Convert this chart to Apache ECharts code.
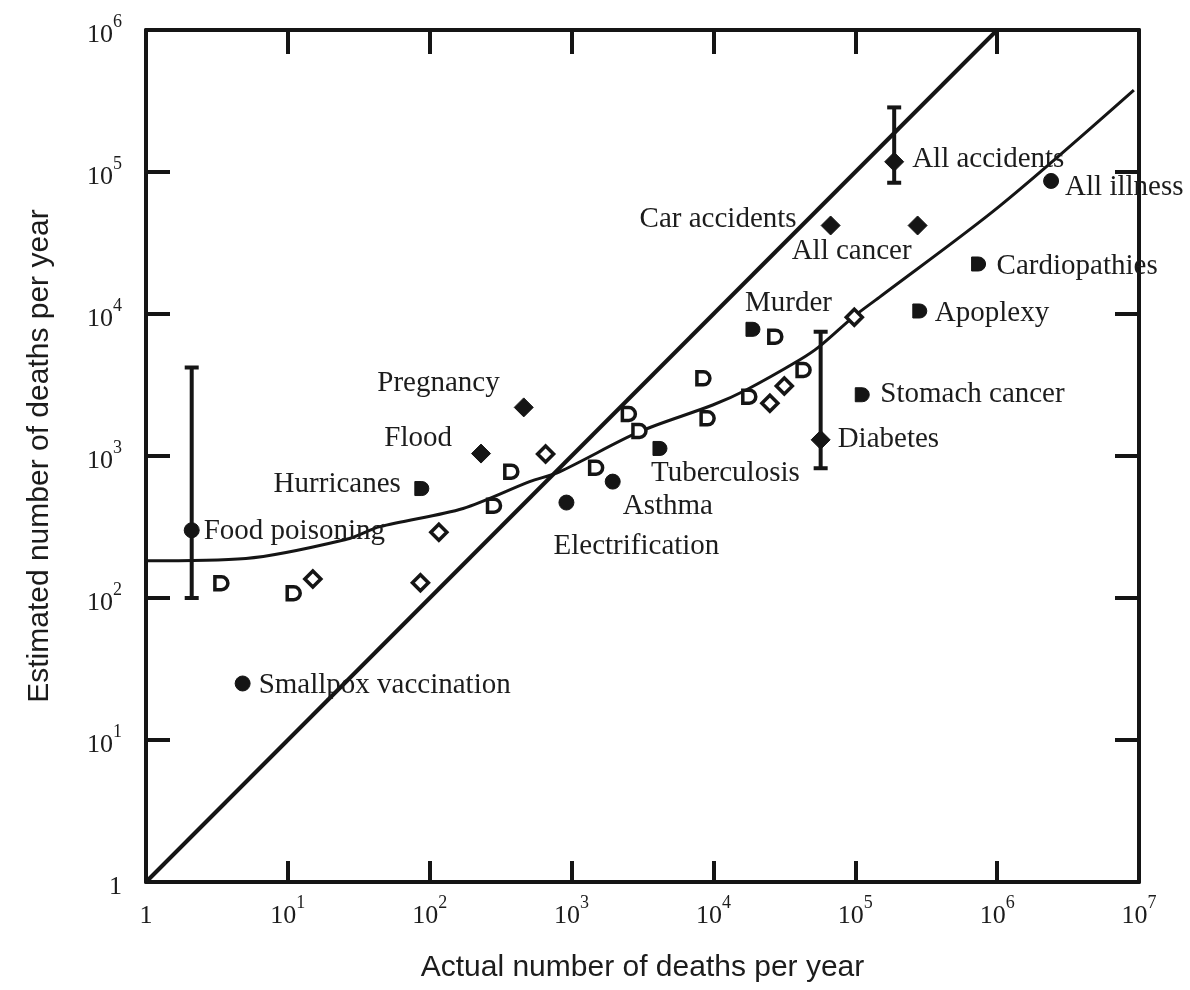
<!DOCTYPE html>
<html>
<head>
<meta charset="utf-8">
<script src="https://cdn.jsdelivr.net/npm/echarts@6/dist/echarts.min.js"></script>
<style>
  html, body { margin: 0; padding: 0; background: #ffffff; }
  #chart { width: 1190px; height: 990px; }
</style>
</head>
<body>
<div id="chart"></div>
<script>
// Causes of death: actual number per year vs. estimated number per year
const labeledNames = [
  'Food poisoning', 'Smallpox vaccination', 'Hurricanes', 'Flood', 'Pregnancy',
  'Electrification', 'Asthma', 'Tuberculosis', 'Murder', 'Diabetes',
  'Stomach cancer', 'Apoplexy', 'Cardiopathies', 'All accidents',
  'Car accidents', 'All cancer', 'All illness'
];
const labeledActual = [
  2.1, 4.8, 88, 230, 460,
  920, 1950, 4200, 19000, 57000,
  112000, 285000, 740000, 188000,
  67000, 275000, 2400000
];
const labeledEstimated = [
  300, 25, 590, 1040, 2200,
  470, 660, 1130, 7800, 1300,
  2700, 10500, 22500, 118000,
  42000, 42000, 86500
];

// Other causes, shown without a name
const unlabeledActual = [
  3.4, 11, 15, 86, 116, 284, 376, 656, 1490, 2535,
  3010, 8500, 9100, 17900, 25000, 31600, 43200, 27300, 98400
];
const unlabeledEstimated = [
  127, 108, 136, 128, 290, 447, 776, 1033, 827, 1976,
  1500, 3525, 1842, 2617, 2350, 3112, 4035, 6920, 9480
];

// Spread of the estimates for three causes
const rangeNames = ['Food poisoning', 'Diabetes', 'All accidents'];
const rangeActual = [2.1, 57000, 188000];
const rangeLow = [100, 820, 84000];
const rangeHigh = [4200, 7500, 285000];

// Perfect-estimate line (estimated = actual)
const identityActual = [1, 1000000];
const identityEstimated = [1, 1000000];

// Curve fitted through the estimates
const fitActual = [
  1, 5.06, 25.9, 44.5, 172, 506, 822, 3013, 9890, 17000,
  40400, 55700, 98400, 147600, 1030000, 9200000
];
const fitEstimated = [
  183, 190, 259, 318, 427, 659, 774, 1483, 2286, 2917,
  4742, 5890, 9660, 13100, 57000, 377000
];

// ---- styling ----
const INK = '#151515';
const TEXT = '#1c1c1c';
const SERIF = 'Liberation Serif, Times New Roman, serif';
const SANS = 'Liberation Sans, Arial, sans-serif';
const D_SHAPE = 'path://M0,0H6A6,6 0 0 1 6,12H0Z';

const labeledShapes = [
  'circle', 'circle', D_SHAPE, 'diamond', 'diamond',
  'circle', 'circle', D_SHAPE, D_SHAPE, 'diamond',
  D_SHAPE, D_SHAPE, D_SHAPE, 'diamond',
  'diamond', 'diamond', 'circle'
];
const unlabeledShapes = [
  D_SHAPE, D_SHAPE, 'diamond', 'diamond', 'diamond', D_SHAPE, D_SHAPE, 'diamond', D_SHAPE, D_SHAPE,
  D_SHAPE, D_SHAPE, D_SHAPE, D_SHAPE, 'diamond', 'diamond', D_SHAPE, D_SHAPE, 'diamond'
];
const filledSize = { circle: 15, diamond: 19 };
const hollowSize = { diamond: 16 };

// label placement relative to the marker centre: [dx, dy, align]
const labelPlacement = {
  'Food poisoning': [12, 1, 'left'],
  'Smallpox vaccination': [16, 2, 'left'],
  'Hurricanes': [-21, -4, 'right'],
  'Flood': [-29, -15, 'right'],
  'Pregnancy': [-24, -24, 'right'],
  'Electrification': [70, 44, 'center'],
  'Asthma': [10, 25, 'left'],
  'Tuberculosis': [-9, 25, 'left'],
  'Murder': [-8, -26, 'left'],
  'Diabetes': [17, 0, 'left'],
  'Stomach cancer': [18, 0, 'left'],
  'Apoplexy': [15, 2, 'left'],
  'Cardiopathies': [18, 2, 'left'],
  'All accidents': [18, -2, 'left'],
  'Car accidents': [-34, -6, 'right'],
  'All cancer': [-6, 26, 'right'],
  'All illness': [14, 6, 'left']
};

const pair = (xs, ys) => xs.map((x, i) => [x, ys[i]]);

const powerLabel = (v) => {
  const p = Math.round(Math.log10(v));
  return p === 0 ? '{b|1}' : '{b|10}{s|' + p + '}';
};
const powerRich = {
  b: { fontFamily: SERIF, fontSize: 26, lineHeight: 44, color: TEXT },
  s: { fontFamily: SERIF, fontSize: 18, lineHeight: 18, verticalAlign: 'top', color: TEXT }
};

const frameAxis = (extra) => Object.assign({
  type: 'log',
  logBase: 10,
  axisLine: { show: true, lineStyle: { color: INK, width: 4 } },
  axisTick: { show: true, inside: true, lineStyle: { color: INK, width: 4 } },
  minorTick: { show: false },
  splitLine: { show: false },
  axisLabel: { show: false }
}, extra);

const labeledData = labeledNames.map((name, i) => ({
  name: name,
  value: [labeledActual[i], labeledEstimated[i]],
  symbol: labeledShapes[i],
  symbolSize: filledSize[labeledShapes[i]] || 14,
  label: {
    show: true,
    position: 'inside',
    align: labelPlacement[name][2],
    verticalAlign: 'middle',
    formatter: '{b}',
    fontFamily: SERIF,
    fontSize: 29,
    color: TEXT
  }
}));

const unlabeledData = unlabeledActual.map((x, i) => ({
  value: [x, unlabeledEstimated[i]],
  symbol: unlabeledShapes[i],
  symbolSize: hollowSize[unlabeledShapes[i]] || 13
}));

const rangeData = rangeActual.map((x, i) => [x, rangeLow[i], rangeHigh[i]]);

const chart = echarts.init(document.getElementById('chart'), null, { renderer: 'canvas' });

chart.setOption({
  backgroundColor: '#ffffff',
  animation: false,
  grid: { left: 146, right: 51, top: 30, bottom: 108, containLabel: false },
  xAxis: [
    frameAxis({
      min: 1, max: 10000000, splitNumber: 7,
      position: 'bottom',
      axisTick: { show: true, inside: true, length: 21, lineStyle: { color: INK, width: 4 } },
      axisLabel: { show: true, margin: 12, formatter: powerLabel, rich: powerRich },
      name: 'Actual number of deaths per year',
      nameLocation: 'middle',
      nameGap: 71,
      nameTextStyle: { fontFamily: SANS, fontSize: 30, color: TEXT }
    }),
    frameAxis({
      min: 1, max: 10000000, splitNumber: 7,
      position: 'top',
      axisTick: { show: true, inside: true, length: 24, lineStyle: { color: INK, width: 4 } }
    })
  ],
  yAxis: [
    frameAxis({
      min: 1, max: 1000000, splitNumber: 6,
      position: 'left',
      axisTick: { show: true, inside: true, length: 24, lineStyle: { color: INK, width: 4 } },
      axisLabel: { show: true, margin: 24, padding: [10, 0, 0, 0], formatter: powerLabel, rich: powerRich },
      name: 'Estimated number of deaths per year',
      nameLocation: 'middle',
      nameGap: 91,
      nameRotate: 90,
      nameTextStyle: { fontFamily: SANS, fontSize: 30, color: TEXT }
    }),
    frameAxis({
      min: 1, max: 1000000, splitNumber: 6,
      position: 'right',
      axisTick: { show: true, inside: true, length: 24, lineStyle: { color: INK, width: 4 } }
    })
  ],
  series: [
    {
      name: 'identity',
      type: 'line',
      xAxisIndex: 0, yAxisIndex: 0,
      data: pair(identityActual, identityEstimated),
      symbol: 'none',
      lineStyle: { color: INK, width: 4 },
      z: 2,
      silent: true
    },
    {
      name: 'fit',
      type: 'line',
      xAxisIndex: 0, yAxisIndex: 0,
      data: pair(fitActual, fitEstimated),
      symbol: 'none',
      smooth: 0.3,
      lineStyle: { color: INK, width: 3 },
      z: 2,
      silent: true
    },
    {
      name: 'range',
      type: 'custom',
      xAxisIndex: 0, yAxisIndex: 0,
      data: rangeData,
      encode: { x: 0, y: [1, 2] },
      z: 3,
      silent: true,
      renderItem: function (params, api) {
        const x = api.value(0);
        const lo = api.coord([x, api.value(1)]);
        const hi = api.coord([x, api.value(2)]);
        const cap = 7;
        const style = { stroke: INK, lineWidth: 4 };
        return {
          type: 'group',
          children: [
            { type: 'line', shape: { x1: lo[0], y1: lo[1], x2: hi[0], y2: hi[1] }, style: style },
            { type: 'line', shape: { x1: hi[0] - cap, y1: hi[1], x2: hi[0] + cap, y2: hi[1] }, style: style },
            { type: 'line', shape: { x1: lo[0] - cap, y1: lo[1], x2: lo[0] + cap, y2: lo[1] }, style: style }
          ]
        };
      }
    },
    {
      name: 'unlabeled',
      type: 'scatter',
      xAxisIndex: 0, yAxisIndex: 0,
      data: unlabeledData,
      itemStyle: { color: '#ffffff', borderColor: INK, borderWidth: 3.5, opacity: 1 },
      z: 4,
      silent: true
    },
    {
      name: 'labeled',
      type: 'scatter',
      xAxisIndex: 0, yAxisIndex: 0,
      data: labeledData,
      itemStyle: { color: INK, borderColor: INK, borderWidth: 1, opacity: 1 },
      labelLayout: function (params) {
        const pl = labelPlacement[labeledNames[params.dataIndex]];
        return { dx: pl[0], dy: pl[1], hideOverlap: false };
      },
      z: 5,
      silent: true
    }
  ]
});
</script>
</body>
</html>
